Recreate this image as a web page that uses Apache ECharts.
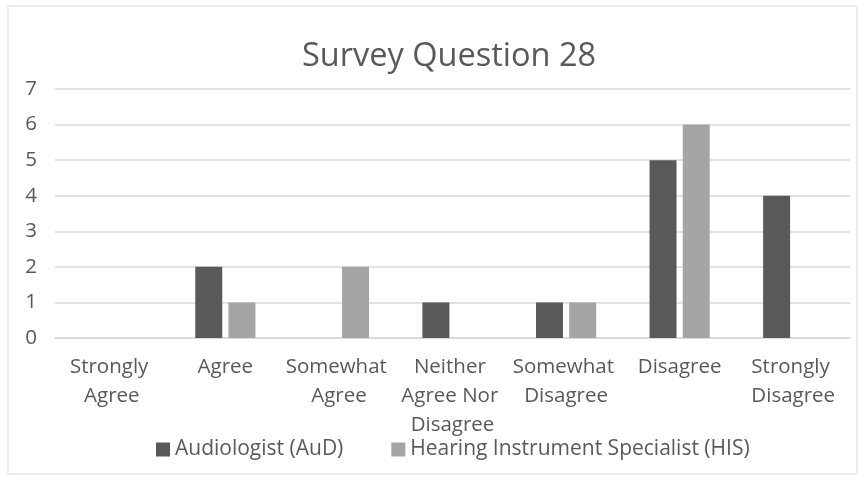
<!DOCTYPE html>
<html>
<head>
<meta charset="utf-8">
<script src="https://cdn.jsdelivr.net/npm/echarts@6/dist/echarts.min.js"></script>
<style>
  html, body { margin: 0; padding: 0; background: #ffffff; }
  #chart { width: 865px; height: 485px; }
</style>
</head>
<body>
<div id="chart"></div>
<script>
// Responses to survey question 28, split by provider type
const categories = ['Strongly Agree', 'Agree', 'Somewhat Agree', 'Neither Agree Nor Disagree', 'Somewhat Disagree', 'Disagree', 'Strongly Disagree'];
const audiologist = [0, 2, 0, 1, 1, 5, 4];
const specialist = [0, 1, 2, 0, 1, 6, 0];
const seriesNames = ['Audiologist (AuD)', 'Hearing Instrument Specialist (HIS)'];
const titleText = 'Survey Question 28';

const textColor = '#595959';
const fontFamily = '"Open Sans", "Noto Sans", sans-serif';

const chart = echarts.init(document.getElementById('chart'), null, { renderer: 'canvas' });
chart.setOption({
  backgroundColor: '#ffffff',
  animation: false,
  textStyle: { fontFamily: fontFamily, color: textColor },
  graphic: [{
    type: 'rect',
    shape: { x: 8, y: 6, width: 849, height: 468 },
    style: { fill: 'none', stroke: '#e8e8e8', lineWidth: 1.5 },
    silent: true
  }],
  title: {
    text: titleText,
    left: 297,
    top: 35,
    textStyle: { fontFamily: fontFamily, fontSize: 32.5, fontWeight: 'normal', color: textColor }
  },
  legend: {
    bottom: 20,
    left: 151,
    itemWidth: 14,
    itemHeight: 14,
    itemGap: 48,
    icon: 'rect',
    textStyle: { fontFamily: fontFamily, fontSize: 21, color: textColor },
    data: seriesNames
  },
  grid: { left: 55, right: 15, top: 89, bottom: 147 },
  xAxis: {
    type: 'category',
    data: categories,
    axisLine: { lineStyle: { color: '#d9d9d9', width: 1.5 } },
    axisTick: { show: false },
    axisLabel: {
      interval: 0,
      margin: 15,
      fontFamily: fontFamily,
      fontSize: 20.5,
      lineHeight: 29,
      color: textColor,
      width: 110,
      overflow: 'break'
    }
  },
  yAxis: {
    type: 'value',
    min: 0,
    max: 7,
    interval: 1,
    axisLine: { show: false },
    axisTick: { show: false },
    splitLine: { lineStyle: { color: '#d9d9d9', width: 1.5 } },
    axisLabel: { fontFamily: fontFamily, fontSize: 20.5, color: textColor, margin: 24, align: 'center' }
  },
  series: [
    {
      name: seriesNames[0],
      type: 'bar',
      data: audiologist,
      itemStyle: { color: '#595959' },
      barGap: '23%',
      barCategoryGap: '47%'
    },
    {
      name: seriesNames[1],
      type: 'bar',
      data: specialist,
      itemStyle: { color: '#a5a5a5' }
    }
  ]
});
</script>
</body>
</html>
